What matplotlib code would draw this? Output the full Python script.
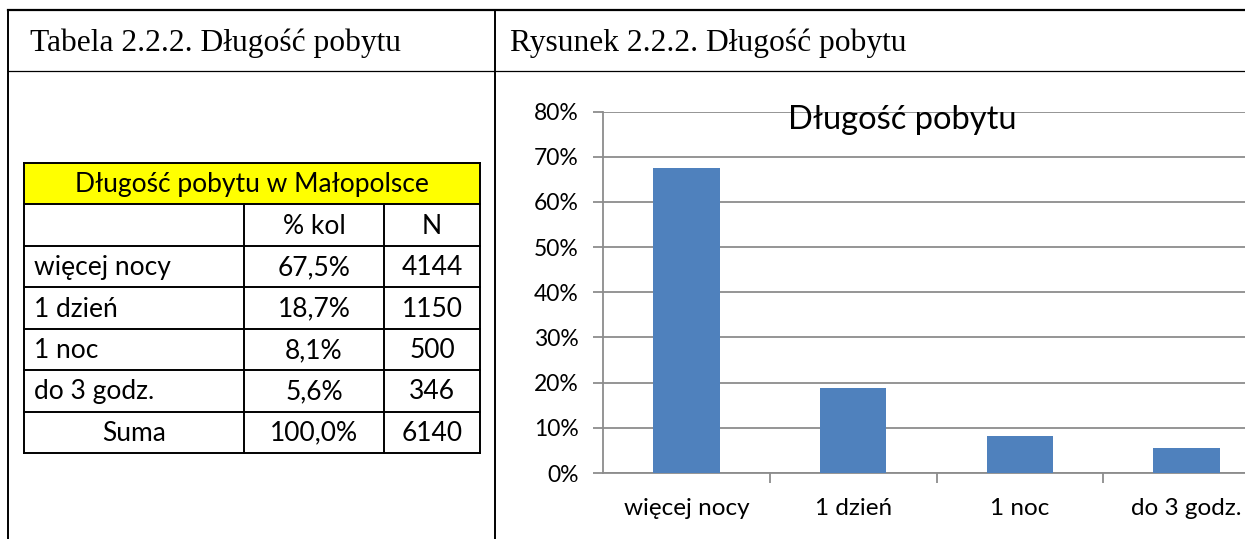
import matplotlib
matplotlib.use('Agg')
import matplotlib.pyplot as plt
from matplotlib.lines import Line2D
from matplotlib.patches import Rectangle
from matplotlib.ticker import FuncFormatter, MultipleLocator

categories = ['więcej nocy', '1 dzień', '1 noc', 'do 3 godz.']
pct_values = [67.5, 18.7, 8.1, 5.6]
n_values = [4144, 1150, 500, 346]
total_label = 'Suma'
total_pct = 100.0
total_n = 6140
col_headers = ['', '% kol', 'N']
table_title = 'Długość pobytu w Małopolsce'
chart_title = 'Długość pobytu'
left_caption = 'Tabela 2.2.2. Długość pobytu'
right_caption = 'Rysunek 2.2.2. Długość pobytu'

SANS = ['Lato', 'DejaVu Sans']
SERIF = ['Liberation Serif', 'DejaVu Serif']
BAR_COLOR = '#4F81BD'
GRID_COLOR = '#8c8c8c'

W, H = 1245, 539
fig = plt.figure(figsize=(W / 100, H / 100), dpi=100)


def fx(px):
    return px / W


def fy(py):
    return 1 - py / H


def line(x0, y0, x1, y1, lw=1.4, color='black'):
    fig.add_artist(Line2D([fx(x0), fx(x1)], [fy(y0), fy(y1)], lw=lw,
                          color=color, solid_capstyle='projecting'))


def pct_fmt(v):
    return f'{v:.1f}%'.replace('.', ',')


# page frame with the two captions
line(8, 9.5, 1245, 9.5, lw=1.6)
line(8, 9.5, 8, 539, lw=1.4)
line(495, 9.5, 495, 539, lw=1.4)
line(8, 71, 1245, 71, lw=0.9)
fig.text(fx(30), fy(43), left_caption, family=SERIF, fontsize=22.7, va='center')
fig.text(fx(510), fy(43), right_caption, family=SERIF, fontsize=22.7, va='center')

# table on the left
col_x = [24, 244, 384, 480]
row_y = [163 + 41.43 * i for i in range(8)]

fig.add_artist(Rectangle((fx(col_x[0]), fy(row_y[1])), fx(col_x[-1]) - fx(col_x[0]),
                         fy(row_y[0]) - fy(row_y[1]), facecolor='#FFFF00',
                         edgecolor='none', zorder=0))
for y in row_y:
    line(col_x[0], y, col_x[-1], y, lw=1.4)
line(col_x[0], row_y[0], col_x[0], row_y[-1], lw=1.4)
line(col_x[-1], row_y[0], col_x[-1], row_y[-1], lw=1.4)
for x in col_x[1:3]:
    line(x, row_y[1], x, row_y[-1], lw=1.4)

tfs = 19


def cell(text, col, row, ha='center'):
    yc = (row_y[row] + row_y[row + 1]) / 2 + 1
    if ha == 'left':
        xc = col_x[col] + 10
    else:
        xc = (col_x[col] + col_x[col + 1]) / 2
    fig.text(fx(xc), fy(yc), text, family=SANS, fontsize=tfs, ha=ha, va='center')


fig.text(fx((col_x[0] + col_x[-1]) / 2), fy((row_y[0] + row_y[1]) / 2 + 1), table_title,
         family=SANS, fontsize=tfs, ha='center', va='center')
for j, h in enumerate(col_headers):
    if h:
        cell(h, j, 1)
for i, (c, p, n) in enumerate(zip(categories, pct_values, n_values)):
    cell(c, 0, 2 + i, ha='left')
    cell(pct_fmt(p), 1, 2 + i)
    cell(str(n), 2, 2 + i)
cell(total_label, 0, 6)
cell(pct_fmt(total_pct), 1, 6)
cell(str(total_n), 2, 6)

# bar chart on the right
x0, x1 = 603, 1270
y_bottom, y_top = 473, 111.5
ax = fig.add_axes([fx(x0), fy(y_bottom), fx(x1) - fx(x0), fy(y_top) - fy(y_bottom)])
ax.bar(range(len(categories)), pct_values, width=0.4, color=BAR_COLOR, zorder=3)
ax.set_xlim(-0.5, len(categories) - 0.5)
ax.set_ylim(0, 80)
ax.yaxis.set_major_locator(MultipleLocator(10))
ax.yaxis.set_major_formatter(FuncFormatter(lambda v, _: f'{v:.0f}%'))
ax.yaxis.grid(True, color=GRID_COLOR, lw=1.3)
ax.set_axisbelow(True)
for s in ['top', 'right']:
    ax.spines[s].set_visible(False)
for s in ['left', 'bottom']:
    ax.spines[s].set_color(GRID_COLOR)
    ax.spines[s].set_linewidth(1.3)
ax.set_xticks(range(len(categories)))
ax.set_xticklabels(categories)
ax.set_xticks([i + 0.5 for i in range(len(categories) - 1)], minor=True)
ax.tick_params(axis='x', which='major', length=0, pad=18, labelsize=17.5)
ax.tick_params(axis='x', which='minor', length=7, width=1.3, color=GRID_COLOR)
ax.tick_params(axis='y', length=7, width=1.3, color=GRID_COLOR, pad=10.5, labelsize=16.5)
for lbl in ax.get_xticklabels() + ax.get_yticklabels():
    lbl.set_family(SANS)
fig.text(fx(902), fy(120), chart_title, ha='center', va='center',
         family=SANS, fontsize=23.5)

fig.savefig('out.png', dpi=100)
